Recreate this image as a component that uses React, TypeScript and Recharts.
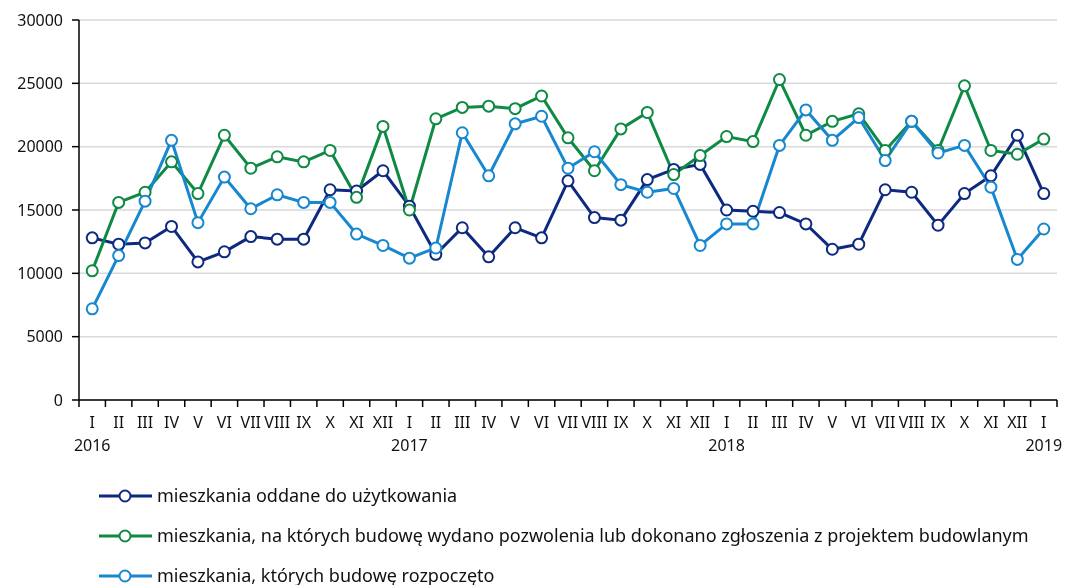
import React from "react";
import { LineChart, Line, XAxis, YAxis, CartesianGrid } from "recharts";

const monthLabels = [
  "I", "II", "III", "IV", "V", "VI", "VII", "VIII", "IX", "X", "XI", "XII",
  "I", "II", "III", "IV", "V", "VI", "VII", "VIII", "IX", "X", "XI", "XII",
  "I", "II", "III", "IV", "V", "VI", "VII", "VIII", "IX", "X", "XI", "XII",
  "I",
];
const yearLabels = ["2016", "2017", "2018", "2019"];

const oddane = [
  12800, 12300, 12400, 13700, 10900, 11700, 12900, 12700, 12700, 16600, 16500, 18100,
  15300, 11500, 13600, 11300, 13600, 12800, 17300, 14400, 14200, 17400, 18200, 18600,
  15000, 14900, 14800, 13900, 11900, 12300, 16600, 16400, 13800, 16300, 17700, 20900,
  16300,
];
const pozwolenia = [
  10200, 15600, 16400, 18800, 16300, 20900, 18300, 19200, 18800, 19700, 16000, 21600,
  15000, 22200, 23100, 23200, 23000, 24000, 20700, 18100, 21400, 22700, 17800, 19300,
  20800, 20400, 25300, 20900, 22000, 22600, 19700, 22000, 19700, 24800, 19700, 19400,
  20600,
];
const rozpoczete = [
  7200, 11400, 15700, 20500, 14000, 17600, 15100, 16200, 15600, 15600, 13100, 12200,
  11200, 12000, 21100, 17700, 21800, 22400, 18300, 19600, 17000, 16400, 16700, 12200,
  13900, 13900, 20100, 22900, 20500, 22300, 18900, 22000, 19500, 20100, 16800, 11100,
  13500,
];
const yTicks = [0, 5000, 10000, 15000, 20000, 25000, 30000];

const seriesNames = [
  "mieszkania oddane do użytkowania",
  "mieszkania, na których budowę wydano pozwolenia lub dokonano zgłoszenia z projektem budowlanym",
  "mieszkania, których budowę rozpoczęto",
];
const seriesKeys = ["oddane", "pozwolenia", "rozpoczete"];
const colors = ["#0d2a80", "#0e8a44", "#1787cf"];

const data = monthLabels.map((m, i) => ({
  period: `${m}-${i}`,
  oddane: oddane[i],
  pozwolenia: pozwolenia[i],
  rozpoczete: rozpoczete[i],
}));

const FONT = "'Noto Sans', sans-serif";
const CHART_W = 1057;
const CHART_H = 577;
const MARGIN = { top: 12, right: 8, left: 0, bottom: 125 };
const Y_W = 71;
const BAND = (CHART_W - MARGIN.left - MARGIN.right - Y_W) / monthLabels.length;

const XTick = (props: any) => {
  const { x, y, payload } = props;
  const i = payload.index;
  const half = BAND / 2;
  const last = i === monthLabels.length - 1;
  const year = i % 12 === 0 ? yearLabels[i / 12] : null;
  return (
    <g>
      <line x1={x - half} x2={x - half} y1={y} y2={y + 7} stroke="#000" strokeWidth={1.5} />
      {last && <line x1={x + half} x2={x + half} y1={y} y2={y + 7} stroke="#000" strokeWidth={1.5} />}
      <text x={x} y={y + 28} textAnchor="middle" fontSize={16} fontFamily={FONT} fill="#111">
        {monthLabels[i]}
      </text>
      {year && (
        <text x={x} y={y + 51} textAnchor="middle" fontSize={16} fontFamily={FONT} fill="#111">
          {year}
        </text>
      )}
    </g>
  );
};

const LegendBlock = () => (
  <div style={{ position: "absolute", left: 0, top: 0, width: 1057 }}>
    {seriesNames.map((name, k) => (
      <div
        key={k}
        style={{
          position: "absolute",
          left: 91,
          top: 487 + k * 40 - 11,
          height: 22,
          lineHeight: "22px",
          display: "flex",
          alignItems: "center",
          whiteSpace: "nowrap",
          fontFamily: FONT,
          fontSize: 18,
          color: "#111",
        }}
      >
        <svg width={54} height={22} style={{ marginRight: 4, flex: "none", position: "relative", top: 1 }}>
          <line x1={0} x2={53} y1={11} y2={11} stroke={colors[k]} strokeWidth={3} />
          <circle cx={26} cy={11} r={5.5} fill="#fff" stroke={colors[k]} strokeWidth={2} />
        </svg>
        <span>{name}</span>
      </div>
    ))}
  </div>
);

export default function App() {
  return (
    <div style={{ position: "fixed", left: 8, top: 8, width: CHART_W, height: CHART_H }}>
      <LineChart width={CHART_W} height={CHART_H} data={data} margin={MARGIN}>
        <CartesianGrid vertical={false} stroke="#d9d9d9" strokeWidth={1.5} />
        <XAxis
          dataKey="period"
          scale="band"
          interval={0}
          tick={<XTick />}
          tickLine={false}
          tickSize={0}
          tickMargin={0}
          height={60}
          axisLine={{ stroke: "#000", strokeWidth: 1.5 }}
        />
        <YAxis
          width={Y_W}
          domain={[0, 30000]}
          ticks={yTicks}
          interval={0}
          tickSize={7}
          tickMargin={9}
          tick={{ fontSize: 16, fontFamily: FONT, fill: "#111" }}
          axisLine={{ stroke: "#000", strokeWidth: 1.5 }}
          tickLine={{ stroke: "#000", strokeWidth: 1.5 }}
        />
        {seriesKeys.map((key, k) => (
          <Line
            key={key}
            dataKey={key}
            name={seriesNames[k]}
            stroke={colors[k]}
            strokeWidth={3}
            dot={{ r: 5.5, fill: "#fff", stroke: colors[k], strokeWidth: 2 }}
            activeDot={false}
            isAnimationActive={false}
          />
        ))}
      </LineChart>
      <LegendBlock />
    </div>
  );
}
